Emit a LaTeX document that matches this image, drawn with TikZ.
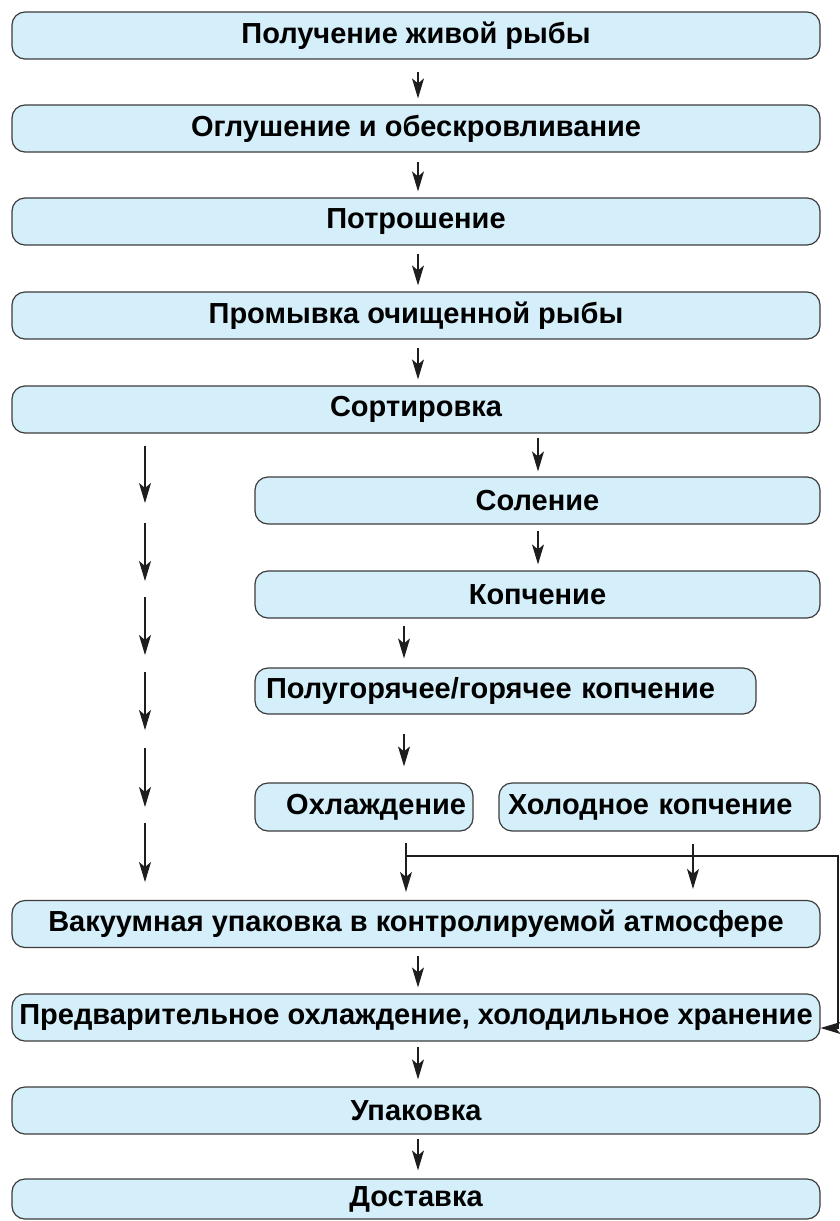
\documentclass[tikz,border=0pt]{standalone}
\usepackage{fontspec}
\setmainfont{Liberation Sans}
\usetikzlibrary{arrows.meta}
\definecolor{boxfill}{RGB}{212,238,250}
\definecolor{boxline}{RGB}{60,60,60}
\definecolor{arrline}{RGB}{30,30,30}
\begin{document}
\begin{tikzpicture}[x=1pt,y=-1pt,
  box/.style={draw=boxline,line width=1.2pt,fill=boxfill,rounded corners=13pt,
    inner sep=0pt,minimum height=47pt,font=\fontsize{29}{34}\selectfont\bfseries},
  arr/.style={draw=arrline,line width=1.1pt,-{Stealth[length=20pt,width=12pt,inset=5pt]}},
]
\useasboundingbox (0,0) rectangle (840,1221);
% main boxes
\node[box,minimum width=808pt] (b1) at (416,35.5) {Получение живой рыбы};
\node[box,minimum width=808pt] (b2) at (416,128.5) {Оглушение и обескровливание};
\node[box,minimum width=808pt] (b3) at (416,221.5) {Потрошение};
\node[box,minimum width=808pt] (b4) at (416,315.5) {Промывка очищенной рыбы};
\node[box,minimum width=808pt] (b5) at (416,409.5) {Сортировка};
\node[box,minimum width=565pt] (b6) at (537.5,500.5) {Соление};
\node[box,minimum width=565pt] (b7) at (537.5,594.5) {Копчение};
\node[box,text width=479pt,inner xsep=11pt,align=left,minimum height=46pt] (b8) at (505.5,691) {Полугорячее/горячее копчение};
\node[box,text width=204pt,inner xsep=7pt,align=right,minimum height=48pt] (b9) at (364,807) {Охлаждение};
\node[box,text width=303pt,inner xsep=9pt,align=left,minimum height=48pt] (b10) at (659.5,807) {Холодное копчение};
\node[box,minimum width=808pt] (b11) at (416,924) {Вакуумная упаковка в контролируемой атмосфере};
\node[box,minimum width=808pt] (b12) at (416,1017.5) {Предварительное охлаждение, холодильное хранение};
\node[box,minimum width=808pt] (b13) at (416,1110.5) {Упаковка};
\node[box,minimum width=808pt,minimum height=40pt] (b14) at (416,1199) {Доставка};
% column x positions
\coordinate (mx) at (418,0);
\coordinate (sx) at (538,0);
\coordinate (hx) at (404,0);
\coordinate (ox) at (406,0);
\coordinate (cx) at (693,0);
% main arrows
\draw[arr,shorten <=12pt,shorten >=6pt] (b1.south -| mx) -- (b2.north -| mx);
\draw[arr,shorten <=9pt,shorten >=6pt] (b2.south -| mx) -- (b3.north -| mx);
\draw[arr,shorten <=8pt,shorten >=6pt] (b3.south -| mx) -- (b4.north -| mx);
\draw[arr,shorten <=8pt,shorten >=6pt] (b4.south -| mx) -- (b5.north -| mx);
\draw[arr,shorten <=4pt,shorten >=5pt] (b5.south -| sx) -- (b6.north -| sx);
\draw[arr,shorten <=6pt,shorten >=6pt] (b6.south -| sx) -- (b7.north -| sx);
\draw[arr,shorten <=7pt,shorten >=9pt] (b7.south -| hx) -- (b8.north -| hx);
\draw[arr,shorten <=19pt,shorten >=16pt] (b8.south -| hx) -- (b9.north -| hx);
\draw[arr,shorten <=11pt,shorten >=8pt] (b9.south -| ox) -- (b11.north -| ox);
\draw[arr,shorten <=12pt,shorten >=11pt] (b10.south -| cx) -- (b11.north -| cx);
\draw[arr,shorten <=8pt,shorten >=6pt] (b11.south -| mx) -- (b12.north -| mx);
\draw[arr,shorten <=5pt,shorten >=7pt] (b12.south -| mx) -- (b13.north -| mx);
\draw[arr,shorten <=4pt,shorten >=8pt] (b13.south -| mx) -- (b14.north -| mx);
% branch to cold storage
\coordinate (j) at (406,856);
\coordinate (rc) at (838,856);
\draw[arr] (j) -- (rc) |- ([yshift=-10.5pt]b12.east);
% left bypass column
\foreach \i/\ys/\ye in {1/446/503,2/523/581,3/597/655,4/672/730,5/748/807,6/823/882}{
  \coordinate (ls\i) at (145,\ys);
  \coordinate (le\i) at (145,\ye);
  \draw[arr] (ls\i) -- (le\i);
}
\end{tikzpicture}
\end{document}
